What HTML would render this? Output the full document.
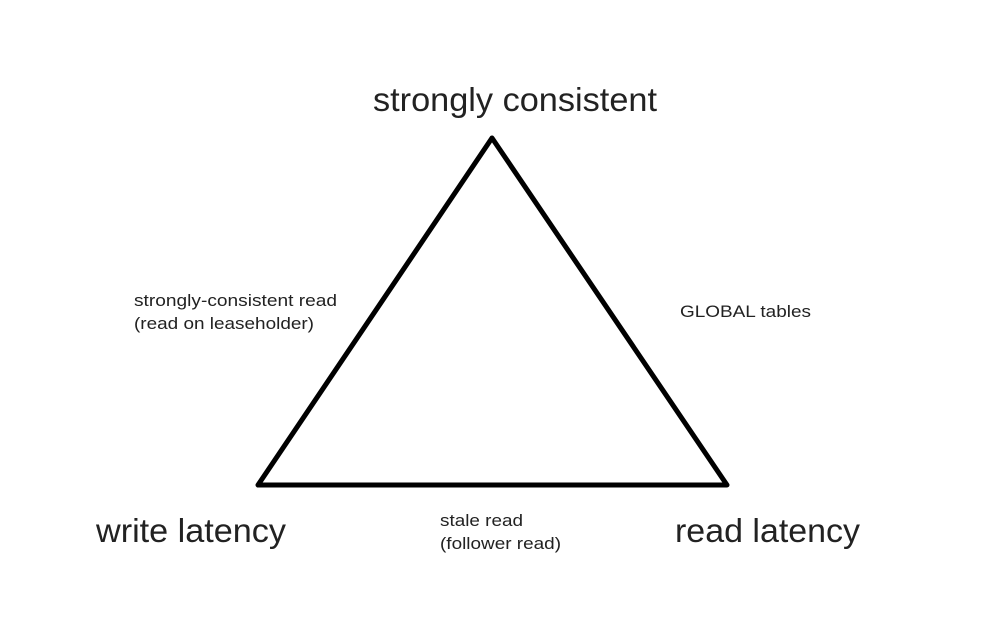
<!DOCTYPE html>
<html><head><meta charset="utf-8"><style>
html,body{margin:0;padding:0;background:#fff;}
svg{display:block;}
text{font-family:"Liberation Sans",Arial,sans-serif;fill:#222;}
</style></head><body>
<svg width="1000" height="620" viewBox="0 0 1000 620">
<polygon points="492,138 258,485 727,485" fill="none" stroke="#000" stroke-width="5" stroke-linejoin="round"/>
<text x="373" y="111" font-size="33" textLength="284" lengthAdjust="spacingAndGlyphs">strongly consistent</text>
<text x="96" y="542" font-size="33" textLength="190" lengthAdjust="spacingAndGlyphs">write latency</text>
<text x="675" y="542" font-size="33" textLength="185" lengthAdjust="spacingAndGlyphs">read latency</text>
<text x="134" y="306" font-size="17" textLength="203" lengthAdjust="spacingAndGlyphs">strongly-consistent read</text>
<text x="134" y="329" font-size="17" textLength="180" lengthAdjust="spacingAndGlyphs">(read on leaseholder)</text>
<text x="680" y="317" font-size="17" textLength="131" lengthAdjust="spacingAndGlyphs">GLOBAL tables</text>
<text x="440" y="526" font-size="17" textLength="83" lengthAdjust="spacingAndGlyphs">stale read</text>
<text x="440" y="549" font-size="17" textLength="121" lengthAdjust="spacingAndGlyphs">(follower read)</text>
</svg>
</body></html>
